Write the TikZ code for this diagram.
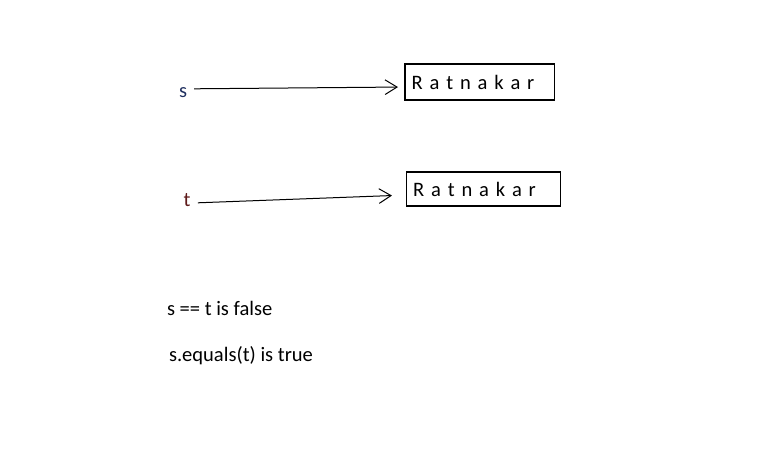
\documentclass[tikz,border=0pt]{standalone}
\usepackage{fontspec}
\setmainfont{Carlito}
\usetikzlibrary{arrows.meta}
\definecolor{varblue}{HTML}{1F2F5F}
\definecolor{varred}{HTML}{5E1A1A}
\begin{document}
\begin{tikzpicture}[x=0.75pt,y=-0.75pt,inner sep=0pt,outer sep=0pt,
font=\fontsize{15.4}{18}\selectfont,
refbox/.style={draw,rectangle,line width=0.8pt,anchor=north west,inner xsep=5pt,align=left},
varname/.style={anchor=base west},
pointer/.style={line width=0.75pt,-{Straight Barb[length=9pt,width=11pt,line width=0.75pt]}}]

\useasboundingbox (0,0) rectangle (760,453);

\node[refbox,text width=102pt,minimum height=27pt] (obj1) at (405,64) {R a t n a k a r};
\node[refbox,text width=105.5pt,minimum height=25.5pt] (obj2) at (406.5,172) {R a t n a k a r};

\node[varname,text=varblue] (s) at (179,97.5) {s};
\node[varname,text=varred] (t) at (183.5,206.5) {t};

\draw[pointer,shorten <=5.25pt,shorten >=5.25pt] ([yshift=2.8pt]s.east) -- ([yshift=-3.75pt]obj1.west);
\draw[pointer,shorten <=5.7pt,shorten >=10.9pt] ([yshift=-2.25pt]t.east) -- ([yshift=-4.5pt]obj2.west);

\node[varname] (same) at (167,315) {s == t is false};
\node[varname] (equal) at (169,361) {s.equals(t) is true};
\end{tikzpicture}
\end{document}
